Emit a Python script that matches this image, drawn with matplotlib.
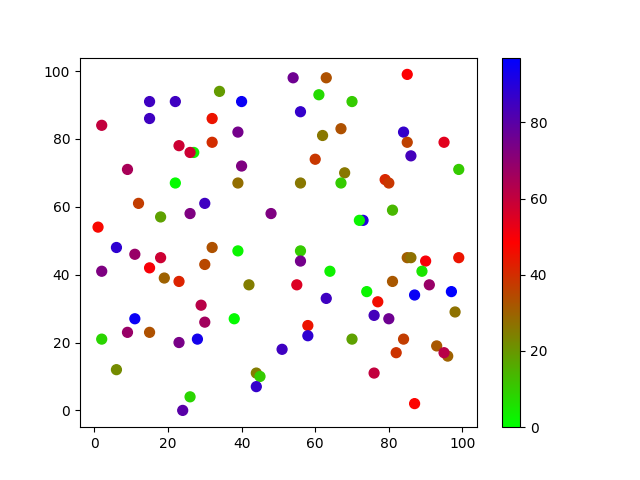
import matplotlib
matplotlib.use("Agg")
import matplotlib.pyplot as plt
from matplotlib.colors import LinearSegmentedColormap

x = [34, 15, 22, 40, 15, 32, 2, 39, 23, 32, 27, 26, 9, 40, 22, 39, 12, 18, 26, 30,
     48, 1, 6, 32, 39, 54, 63, 85, 61, 70, 56, 67, 62, 84, 85, 95, 86, 60, 99, 68,
     56, 67, 79, 80, 81, 73, 72, 56, 11, 18, 2, 15, 30, 19, 23, 42, 29, 30, 11, 38,
     2, 9, 15, 23, 28, 51, 6, 44, 45, 44, 26, 24, 56, 64, 55, 63, 74, 77, 58, 58,
     70, 76, 80, 85, 86, 90, 99, 89, 81, 91, 87, 97, 98, 84, 82, 93, 96, 95, 76, 87]
y = [94, 91, 91, 91, 86, 86, 84, 82, 78, 79, 76, 76, 71, 72, 67, 67, 61, 57, 58, 61,
     58, 54, 48, 48, 47, 98, 98, 99, 93, 91, 88, 83, 81, 82, 79, 79, 75, 74, 71, 70,
     67, 67, 68, 67, 59, 56, 56, 47, 46, 45, 41, 42, 43, 39, 38, 37, 31, 26, 27, 27,
     21, 23, 23, 20, 21, 18, 12, 11, 10, 7, 4, 0, 44, 41, 37, 33, 35, 32, 25, 22,
     21, 28, 27, 45, 45, 44, 45, 41, 38, 37, 34, 35, 29, 21, 17, 19, 16, 17, 11, 2]
c = [19, 85, 85, 95, 85, 45, 60, 75, 58, 40, 3, 58, 65, 73, 1, 28, 37, 18, 73, 85,
     73, 47, 88, 33, 2, 76, 33, 49, 7, 10, 87, 33, 26, 87, 36, 54, 84, 38, 10, 26,
     26, 10, 41, 38, 14, 90, 2, 10, 68, 58, 73, 50, 35, 30, 42, 25, 62, 66, 95, 1,
     8, 68, 33, 74, 93, 85, 22, 25, 10, 87, 8, 80, 75, 3, 55, 85, 2, 46, 45, 88,
     18, 84, 76, 31, 27, 50, 45, 5, 32, 68, 95, 97, 27, 37, 39, 32, 30, 62, 60, 48]

cmap = LinearSegmentedColormap.from_list("grb", [(0, 1, 0), (1, 0, 0), (0, 0, 1)])

fig, ax = plt.subplots(figsize=(6.4, 4.8), dpi=100)
sc = ax.scatter(x, y, c=c, cmap=cmap, s=50, vmin=0, vmax=max(c))
fig.colorbar(sc, ax=ax)
fig.savefig("out.png")
